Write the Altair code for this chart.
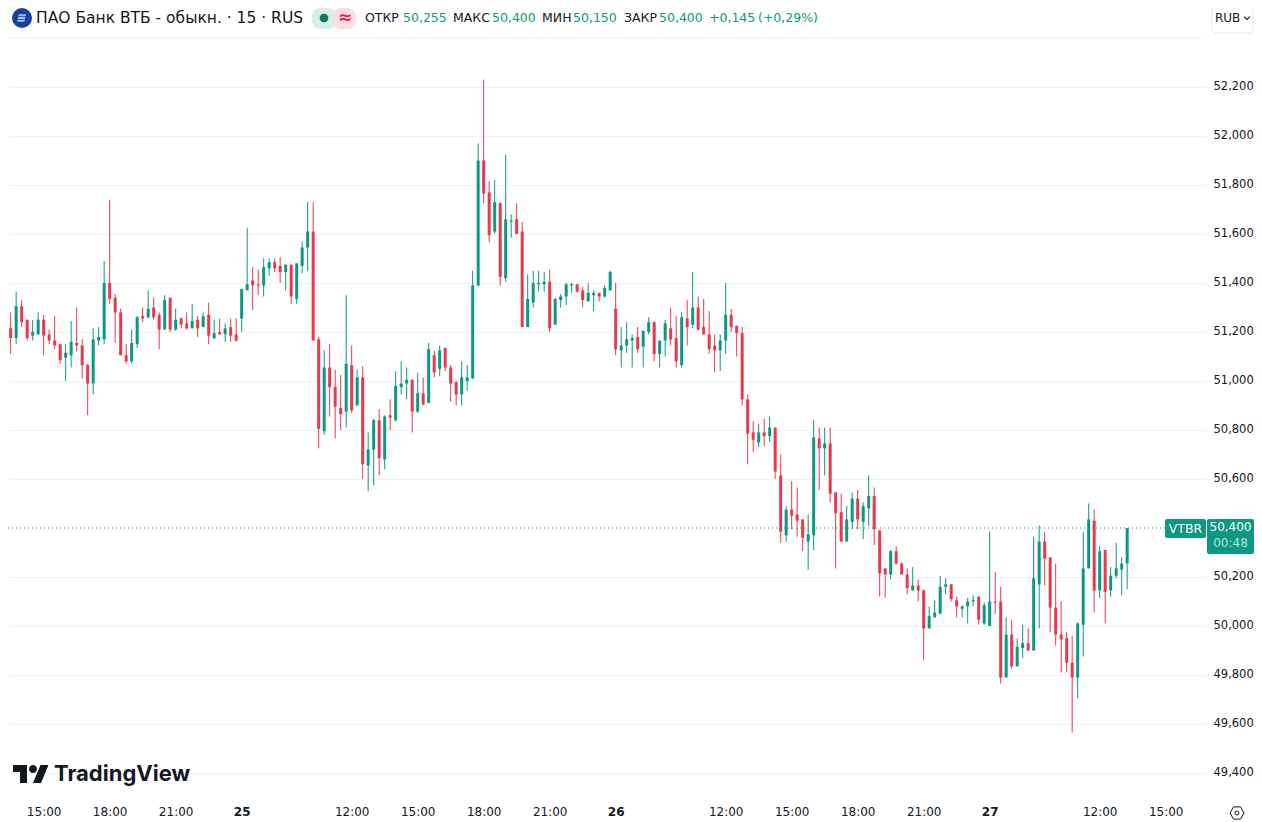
import altair as alt
import pandas as pd

direction = ("RRGRRGGRRR" "RGGRRRGGGR" "RRRGGRGRRG" "RGRRGRGRGR" "GRRGGRRGGR"
             "RGRGGGRRGR" "RRGRGRGGRG" "RGGGRGRGRG" "RRRGGGGRRG" "RGGRRGGGGR"
             "GGGGRRGGRG" "GRGGGRGGRG" "GRRGRGRRRR" "GGRRRRRGRG" "RRGRRRGGRG"
             "RRRGGRGGRR" "RGRRRGRRGG" "GGRRGGGRGG" "RRGRGGRGGR" "RRRRRGGGRG"
             "RGGGG")

high = [51365,51280,51365,51330,51250,51250,51280,51270,51210,51265,
        51150,51150,51245,51300,51170,51070,51215,51220,51490,51740,
        51355,51295,51150,51210,51265,51300,51370,51340,51280,51350,
        51340,51295,51260,51280,51315,51265,51280,51320,51250,51255,
        51235,51255,51255,51375,51625,51465,51455,51500,51500,51500,
        51505,51475,51475,51480,51570,51730,51730,51180,51125,51150,
        51045,51025,51350,51145,51045,51060,50790,50845,50885,50860,
        50925,51040,51080,51055,51005,51035,51015,51155,51125,51145,
        51135,51065,51000,51080,51065,51450,51970,52230,51815,51820,
        51730,51925,51680,51725,51650,51435,51450,51450,51445,51455,
        51340,51355,51400,51400,51395,51385,51400,51370,51360,51390,
        51450,51400,51220,51240,51190,51220,51205,51260,51245,51165,
        51250,51300,51265,51280,51330,51445,51345,51335,51285,51190,
        51190,51400,51295,51225,51220,50945,50835,50825,50845,50855,
        50810,50700,50490,50590,50565,50435,50455,50840,50810,50810,
        50810,50545,50540,50490,50545,50555,50505,50615,50565,50390,
        50235,50310,50325,50260,50235,50240,50190,50150,50080,50105,
        50205,50195,50170,50120,50085,50115,50125,50120,50095,50385,
        50220,50160,50035,50025,49950,50005,49990,50365,50410,50385,
        50280,50255,50100,49975,49960,50015,50385,50500,50475,50325,
        50310,50240,50340,50280,50400]

body_top = [51300,51215,51305,51305,51250,51200,51250,51250,51190,51165,
            51150,51115,51160,51155,51145,51065,51170,51180,51400,51400,
            51340,51280,51105,51155,51260,51265,51295,51300,51270,51330,
            51340,51250,51255,51235,51245,51250,51265,51270,51195,51200,
            51215,51220,51190,51375,51395,51410,51395,51465,51485,51485,
            51470,51475,51475,51480,51545,51610,51610,51170,51055,51055,
            50975,50890,51070,51065,51015,51015,50720,50840,50840,50855,
            50860,50980,50990,51005,51005,50950,50950,51130,51105,51125,
            51135,51055,50995,51015,51015,51390,51900,51900,51770,51730,
            51725,51660,51655,51660,51610,51335,51400,51400,51405,51405,
            51335,51345,51395,51395,51395,51370,51360,51360,51360,51380,
            51445,51295,51145,51170,51175,51180,51205,51240,51240,51165,
            51235,51215,51175,51260,51255,51300,51300,51220,51190,51145,
            51165,51270,51270,51225,51195,50925,50790,50790,50790,50810,
            50810,50615,50475,50475,50455,50435,50375,50770,50765,50745,
            50745,50545,50465,50435,50520,50520,50490,50530,50530,50390,
            50235,50305,50305,50255,50210,50165,50165,50145,50040,50055,
            50160,50170,50170,50105,50080,50100,50105,50120,50085,50100,
            50100,50100,49965,49965,49915,49930,49930,50195,50345,50345,
            50280,50075,49965,49950,49850,50010,50235,50435,50430,50305,
            50310,50205,50235,50255,50400]

body_bottom = [51210,51175,51175,51240,51175,51185,51190,51185,51165,51145,
               51085,51095,51105,51145,51065,50990,50990,51165,51170,51335,
               51280,51105,51080,51080,51150,51255,51260,51260,51210,51210,
               51210,51210,51230,51215,51215,51215,51220,51185,51175,51190,
               51190,51185,51165,51255,51370,51390,51390,51390,51460,51460,
               51445,51445,51345,51335,51470,51545,51165,50805,50795,50975,
               50895,50865,50875,50880,50900,50660,50655,50720,50685,50680,
               50850,50840,50975,50990,50875,50875,50905,50910,51035,51050,
               51055,50990,50945,50945,51000,51010,51390,51765,51595,51610,
               51425,51420,51650,51600,51220,51220,51320,51395,51395,51215,
               51230,51330,51345,51390,51365,51330,51325,51350,51345,51345,
               51370,51130,51125,51145,51165,51130,51140,51200,51110,51110,
               51165,51170,51080,51065,51220,51230,51210,51190,51130,51125,
               51125,51165,51220,51195,50925,50785,50760,50750,50775,50775,
               50630,50385,50370,50450,50430,50360,50345,50370,50725,50725,
               50540,50460,50345,50345,50425,50435,50425,50480,50395,50215,
               50210,50210,50255,50210,50155,50145,50145,49990,49990,50035,
               50050,50160,50110,50080,50070,50080,50100,50025,50010,50000,
               50095,49790,49790,49835,49835,49910,49900,49900,50170,50275,
               50075,49965,49945,49850,49790,49790,50005,50235,50145,50145,
               50140,50145,50205,50230,50255]

low = [51105,51110,51150,51220,51165,51165,51190,51105,51150,51130,
       51070,51000,51055,51120,51010,50860,50945,51145,51150,51315,
       51155,51105,51070,51070,51135,51240,51255,51250,51130,51210,
       51200,51205,51215,51210,51215,51180,51220,51150,51170,51190,
       51160,51160,51160,51200,51370,51290,51350,51345,51430,51445,
       51400,51370,51315,51315,51440,51450,51165,50725,50780,50855,
       50765,50800,50810,50870,50900,50600,50550,50575,50615,50640,
       50800,50835,50945,50925,50790,50870,50900,50910,51015,51020,
       51040,50915,50900,50900,50960,51010,51385,51725,51565,51600,
       51390,51405,51585,51600,51220,51220,51300,51365,51365,51200,
       51230,51300,51310,51360,51360,51300,51325,51285,51325,51340,
       51370,51105,51055,51115,51055,51115,51055,51190,51080,51055,
       51100,51145,51055,51055,51145,51215,51205,51190,51110,51035,
       51040,51110,51200,51100,50900,50660,50710,50730,50735,50750,
       50600,50340,50345,50395,50365,50305,50230,50310,50555,50615,
       50505,50235,50345,50345,50395,50395,50355,50410,50330,50120,
       50115,50190,50250,50210,50130,50145,50100,49860,49990,50035,
       50050,50130,50100,50035,50035,50010,50080,50005,50005,50000,
       50050,49765,49790,49825,49835,49870,49900,49900,49990,50165,
       49975,49920,49810,49810,49565,49705,49875,50235,50055,50115,
       50010,50120,50195,50125,50150]

price_ticks = [49400,49600,49800,50000,50200,50600,50800,51000,51200,51400,51600,51800,52000,52200]
time_tick_bars = [7,19,31,43,63,75,87,99,111,131,143,155,167,179,199,211]
time_tick_text = ["15:00","18:00","21:00","25","12:00","15:00","18:00","21:00","26","12:00","15:00","18:00","21:00","27","12:00","15:00"]
day_bars = [43,111,179]
last_price = 50400

UP = "#0d9881"
DOWN = "#e8394d"
INK = "#131722"
FONT = "DejaVu Sans"


def px(v):
    return v - 8


n = len(high)
candles = pd.DataFrame({
    "bar": list(range(n)),
    "high": high, "low": low, "top": body_top, "bottom": body_bottom,
    "direction": list(direction)[:n],
})

xs = alt.Scale(domain=[0.515, 218.33], nice=False, zero=False, padding=0)
ys = alt.Scale(domain=[49297.9, 52522.4], nice=False, zero=False)
col = alt.Color("direction:N", scale=alt.Scale(domain=["G", "R"], range=[UP, DOWN]), legend=None)

expr_map = "{" + ",".join(f"'{b}':'{t}'" for b, t in zip(time_tick_bars, time_tick_text)) + "}[datum.value]"
day_test = " || ".join(f"datum.value == {d}" for d in day_bars)

x_axis = alt.Axis(values=time_tick_bars, labelExpr=expr_map, title=None, grid=False, domain=False,
                  ticks=False, labelFont=FONT, labelFontSize=12, labelColor=INK, labelPadding=8,
                  labelFlush=False, labelOverlap=False, labelAngle=0,
                  labelFontWeight={"condition": {"test": day_test, "value": "bold"}, "value": "normal"})
y_axis = alt.Axis(values=price_ticks, format=",d", orient="right", title=None, grid=True, gridColor="#f0f3fa",
                  gridWidth=1, domain=False, ticks=False, labelFont=FONT, labelFontSize=11.5, labelColor=INK,
                  labelPadding=7, labelAlign="left", labelOverlap=False, labelFlush=False)

wicks = alt.Chart(candles).mark_rule(strokeWidth=1, clip=True).encode(
    x=alt.X("bar:Q", scale=xs, axis=x_axis),
    y=alt.Y("high:Q", scale=ys, axis=y_axis),
    y2="low:Q",
    color=col,
)
bodies = alt.Chart(candles).mark_bar(size=3, clip=True, orient="vertical").encode(
    x=alt.X("bar:Q", scale=xs, axis=x_axis),
    y=alt.Y("top:Q", scale=ys, axis=y_axis),
    y2="bottom:Q",
    color=col,
)
last_line = alt.Chart(pd.DataFrame({"p": [last_price]})).mark_rule(
    color=UP, strokeWidth=1, strokeDash=[1, 3]
).encode(y=alt.Y("p:Q", scale=ys, axis=y_axis), x=alt.value(0), x2=alt.value(px(1165)))

one = pd.DataFrame({"a": [0]})


def txt(s, x, y, color=INK, size=12.5, align="left", weight="normal", font=FONT):
    return alt.Chart(one).mark_text(text=s, color=color, fontSize=size, align=align, baseline="middle",
                                    fontWeight=weight, font=font).encode(
        x=alt.value(px(x)), y=alt.value(px(y)))


def box(x0, x1, y0, y1, fill, radius=0, stroke=None):
    kw = {"stroke": stroke, "strokeWidth": 1} if stroke else {}
    return alt.Chart(one).mark_rect(fill=fill, cornerRadius=radius, **kw).encode(
        x=alt.value(px(x0)), x2=alt.value(px(x1)), y=alt.value(px(y0)), y2=alt.value(px(y1)))


def glyph(path, x, y, size, fill=None, stroke=None, sw=1):
    kw = {}
    if fill:
        kw.update(fill=fill, filled=True, strokeWidth=0)
    else:
        kw.update(filled=False, stroke=stroke, strokeWidth=sw)
    return alt.Chart(one).mark_point(shape=path, size=size, opacity=1, **kw).encode(
        x=alt.value(px(x)), y=alt.value(px(y)))


LOGO = ("M-0.2113,0.507L-0.6056,0.507L-0.6056,-0.1127L-1,-0.1127L-1,-0.507L-0.2113,-0.507Z"
        "M0.5775,0.507L0.1268,0.507L0.5493,-0.507L1,-0.507Z"
        "M-0.0986,-0.2817A0.2254,0.2254 0 1 0 0.3522,-0.2817A0.2254,0.2254 0 1 0 -0.0986,-0.2817Z")
HEX = "M-0.5,-0.87L0.5,-0.87L1,0L0.5,0.87L-0.5,0.87L-1,0Z"
STRIPES = ("M-0.42,-0.5L0.55,-0.5L0.47,-0.22L-0.5,-0.22Z"
           "M-0.5,-0.12L0.47,-0.12L0.39,0.14L-0.58,0.14Z"
           "M-0.58,0.24L0.39,0.24L0.31,0.5L-0.66,0.5Z")

decor = [
    # header separator
    alt.Chart(one).mark_rule(color="#f0f3fa", strokeWidth=1).encode(
        x=alt.value(0), x2=alt.value(px(1205)), y=alt.value(px(38))),
    # symbol icon
    glyph("circle", 22, 18, 400, fill="#17409a"),
    glyph(STRIPES, 22, 18, 220, fill="#9fc0f0"),
    txt("ПАО Банк ВТБ - обыкн. · 15 · RUS", 36, 18, size=15.5),
    # status pill
    box(312, 336, 8, 29, "#d6efe9", 8),
    box(333, 356, 8, 29, "#fbdde4", 8),
    glyph("circle", 324, 18, 75, fill="#0b7a63"),
    txt("≈", 345, 18, color="#d81e5b", size=17, align="center", weight="bold"),
    # OHLC readout
    txt("ОТКР", 365, 18), txt("50,255", 403, 18, color=UP),
    txt("МАКС", 453, 18), txt("50,400", 492, 18, color=UP),
    txt("МИН", 542, 18), txt("50,150", 573, 18, color=UP),
    txt("ЗАКР", 624, 18), txt("50,400", 659, 18, color=UP),
    txt("+0,145", 709, 18, color=UP), txt("(+0,29%)", 758, 18, color=UP),
    # currency button
    box(1212, 1253, 5, 33, "#ffffff", 5, stroke="#e6e8ee"),
    txt("RUB", 1215, 18, size=12),
    glyph("M-1,-0.5L0,0.5L1,-0.5", 1247, 18, 32, stroke=INK, sw=1.2),
    # last price tags
    box(1165, 1206, 519, 538, UP, 2),
    txt("VTBR", 1185.5, 529, color="#ffffff", size=12.5, align="center"),
    box(1207, 1254, 519, 554, UP, 2),
    txt("50,400", 1230.5, 527, color="#ffffff", size=12, align="center"),
    txt("00:48", 1230.5, 543, color="#b4e4d9", size=12, align="center"),
    # watermark
    glyph(LOGO, 30.75, 774, 1260, fill=INK),
    txt("TradingView", 54, 774, size=22, weight="bold", font="Inter"),
    # settings
    glyph(HEX, 1237, 813, 196, stroke=INK, sw=1),
    glyph("circle", 1237, 813, 16, stroke=INK, sw=1),
]

plot_w = 1198
plot_h = 790

chart = alt.layer(wicks, bodies, last_line, *decor).properties(
    width=plot_w, height=plot_h,
    padding={"left": 0, "top": 0, "right": 48, "bottom": 24},
    autosize=alt.AutoSizeParams(type="none"),
    background="#ffffff",
).configure_view(stroke=None)

chart.save("out.html", embed_options={"renderer": "svg", "actions": False})
